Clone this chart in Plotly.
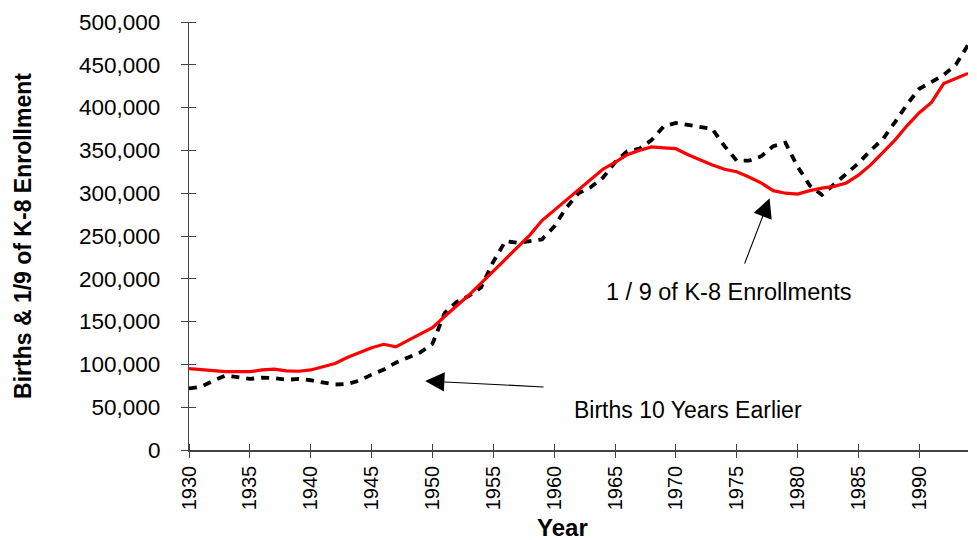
import plotly.graph_objects as go

years = list(range(1930, 1995))

enroll_ninth = [
    95, 94, 92.5, 91.5, 91.5, 91.5, 93.5, 94.5, 92.5, 92,
    93.5, 97, 101, 108, 114, 119.5, 123.5, 120.5, 128, 136,
    143, 156, 168, 181, 195, 209, 223, 238, 251, 268,
    280, 292, 304, 316, 328, 336, 345, 350, 354, 353,
    352, 345, 339, 333, 328, 325, 319, 312, 303, 300,
    299, 303, 306, 308, 312, 321, 333, 347, 362, 379,
    394, 406, 428, 434, 440,
]
enroll_ninth = [v * 1000 for v in enroll_ninth]

births_10_earlier = [
    72, 74, 81, 87, 85, 83, 84.5, 84, 82, 83,
    81.5, 79, 76.5, 77, 81, 88, 94, 102, 108, 114,
    124, 160, 173, 180, 190, 220, 244, 242, 244, 246,
    261, 283, 300, 307, 318, 336, 349, 352, 362, 378,
    382, 380, 378, 375, 355, 338, 338, 343, 355, 359,
    331, 309, 298, 310, 322, 335, 350, 363, 383, 404,
    422, 430, 438, 450, 473,
]
births_10_earlier = [v * 1000 for v in births_10_earlier]

x_ticks = list(range(1930, 1995, 5))
y_ticks = list(range(0, 500001, 50000))

fig = go.Figure()
fig.add_trace(go.Scatter(
    x=years, y=births_10_earlier, mode="lines",
    name="Births 10 Years Earlier",
    line=dict(color="black", width=3.8, dash="8px,7px"),
))
fig.add_trace(go.Scatter(
    x=years, y=enroll_ninth, mode="lines",
    name="1 / 9 of K-8 Enrollments",
    line=dict(color="#ff0000", width=3.2),
))

font_family = "Liberation Sans, Arial, sans-serif"

fig.update_layout(
    width=969, height=532,
    margin=dict(l=181, r=9, t=14, b=90),
    paper_bgcolor="white", plot_bgcolor="white",
    showlegend=False,
    font=dict(family=font_family, color="black"),
    xaxis=dict(
        range=[1930, 1994], tickvals=x_ticks, ticktext=[str(t) for t in x_ticks],
        tickangle=-90, tickfont=dict(size=20),
        showgrid=False, zeroline=False, automargin=False,
        showline=True, linecolor="#444", linewidth=1.5,
        ticks="outside", ticklen=6, tickcolor="#444",
        minor=dict(ticks="inside", tick0=1930.0001, dtick=5, ticklen=6,
                   tickcolor="#444", showgrid=False),
    ),
    yaxis=dict(
        range=[0, 500000], tickvals=y_ticks,
        ticktext=[f"{t:,}" for t in y_ticks],
        tickfont=dict(size=22.5),
        showgrid=False, zeroline=False, automargin=False,
        showline=True, linecolor="#444", linewidth=1.2,
        ticks="outside", ticklen=7, tickcolor="#444",
        minor=dict(ticks="inside", tick0=1, dtick=50000, ticklen=7,
                   tickcolor="#444", showgrid=False),
        ticklabelstandoff=16,
        title=dict(text="<b>Births &amp; 1/9 of K-8 Enrollment</b>",
                   font=dict(size=23), standoff=41),
    ),
    annotations=[
        dict(x=0.479, y=-0.18, xref="paper", yref="paper",
             xanchor="center", yanchor="middle", showarrow=False,
             text="<b>Year</b>", font=dict(size=24)),
        dict(x=1949.4, y=80600, xref="x", yref="y",
             ax=1959.25, ay=73600, axref="x", ayref="y",
             showarrow=True, arrowhead=2, arrowsize=3.5, arrowwidth=1.1,
             arrowcolor="black", text=""),
        dict(x=1971.0, y=46700, xref="x", yref="y", showarrow=False,
             text="Births 10 Years Earlier", font=dict(size=23)),
        dict(x=1977.7, y=294000, xref="x", yref="y",
             ax=1975.6, ay=216000, axref="x", ayref="y",
             showarrow=True, arrowhead=2, arrowsize=3.5, arrowwidth=1.1,
             arrowcolor="black", text=""),
        dict(x=1974.4, y=184600, xref="x", yref="y", showarrow=False,
             text="1 / 9 of K-8 Enrollments", font=dict(size=23.5)),
    ],
)

fig.write_html("out.html")
